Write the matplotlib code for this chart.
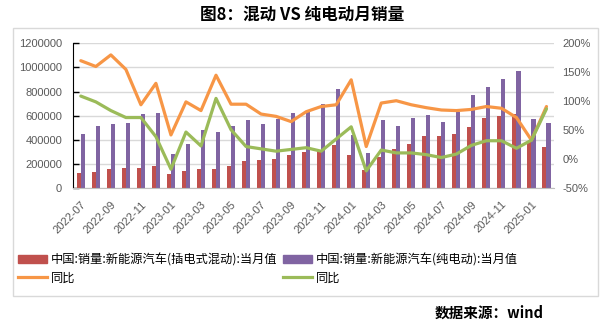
import matplotlib
matplotlib.use("Agg")
import matplotlib.pyplot as plt
from matplotlib.patches import Rectangle
from matplotlib.lines import Line2D
import numpy as np

plt.rcParams["font.family"] = ["Liberation Sans", "Noto Sans CJK SC", "DejaVu Sans"]

# monthly sales (units) and yoy (%)
months = ["2022-07", "2022-08", "2022-09", "2022-10", "2022-11", "2022-12",
          "2023-01", "2023-02", "2023-03", "2023-04", "2023-05", "2023-06",
          "2023-07", "2023-08", "2023-09", "2023-10", "2023-11", "2023-12",
          "2024-01", "2024-02", "2024-03", "2024-04", "2024-05", "2024-06",
          "2024-07", "2024-08", "2024-09", "2024-10", "2024-11", "2024-12",
          "2025-01", "2025-02"]
phev = [130, 138, 163, 171, 171, 185, 121, 146, 163, 163, 185, 226,
        235, 246, 276, 301, 309, 358, 275, 150, 262, 322, 366, 433,
        433, 450, 508, 584, 598, 614, 386, 339]
bev = [450, 516, 532, 543, 618, 626, 284, 367, 483, 469, 516, 566,
       532, 571, 624, 643, 698, 818, 441, 295, 565, 515, 582, 607,
       549, 635, 773, 840, 904, 970, 573, 543]
phev_yoy = [170, 160, 180, 155, 94, 131, 42, 99, 84, 145, 95, 95,
            78, 74, 65, 82, 91, 94, 137, 22, 97, 101, 94, 89,
            85, 84, 86, 91, 88, 72, 33, 91]
bev_yoy = [109, 99, 84, 72, 72, 39, -17, 47, 23, 105, 51, 22,
           18, 14, 17, 20, 14, 35, 56, -20, 16, 11, 11, 8,
           3, 9, 24, 32, 32, 19, 33, 87]

RED, PURPLE = "#C0504D", "#8064A2"
ORANGE, GREEN = "#F79646", "#9BBB59"
GRAY = "#595959"

x = np.arange(len(months))
fig = plt.figure(figsize=(6.04, 3.24), dpi=100)
ax = fig.add_axes([73.3 / 604, 135.7 / 324, 480.7 / 604, 145 / 324])
ax2 = ax.twinx()

w = 0.27
ax.bar(x - w / 2, np.array(phev) * 1000, width=w, color=RED, zorder=2)
ax.bar(x + w / 2, np.array(bev) * 1000, width=w, color=PURPLE, zorder=2)
ax.set_xlim(-0.5, len(months) - 0.5)
ax.set_ylim(0, 1200000)
ax.set_yticks(np.arange(0, 1200001, 200000))
ax.set_yticklabels([f"{v:d}" for v in range(0, 1200001, 200000)])
ax.grid(axis="y", color="#D9D9D9", lw=1, zorder=0)
ax.set_axisbelow(True)
ax.tick_params(axis="y", direction="in", length=4, width=1, colors="black",
               labelcolor=GRAY, labelsize=8, pad=8)
ax.set_xticks(x[::2])
ax.set_xticklabels(months[::2], rotation=45, ha="right", va="top",
                   rotation_mode="anchor", fontsize=8, color=GRAY)
ax.tick_params(axis="x", length=0, pad=8)
for s in ("top", "right"):
    ax.spines[s].set_visible(False)
ax.spines["bottom"].set_color("#BFBFBF")
ax.spines["left"].set_color("black")

ax2.plot(x, phev_yoy, color=ORANGE, lw=2.3, solid_capstyle="round", zorder=3)
ax2.plot(x, bev_yoy, color=GREEN, lw=2.3, solid_capstyle="round", zorder=3)
ax2.set_ylim(-50, 200)
ax2.set_yticks(np.arange(-50, 201, 50))
ax2.set_yticklabels([f"{v}%" for v in range(-50, 201, 50)])
ax2.tick_params(axis="y", length=0, labelcolor=GRAY, labelsize=8, pad=6)
for s in ax2.spines.values():
    s.set_visible(False)

handles = [
    Rectangle((0, 0), 1, 1, color=RED),
    Line2D([], [], color=ORANGE, lw=2.3),
    Rectangle((0, 0), 1, 1, color=PURPLE),
    Line2D([], [], color=GREEN, lw=2.3),
]
labels = ["中国:销量:新能源汽车(插电式混动):当月值", "同比",
          "中国:销量:新能源汽车(纯电动):当月值", "同比"]
fig.legend(handles, labels, loc="upper left", bbox_to_anchor=(18 / 604, 1 - 253 / 324),
           ncol=2, frameon=False, handlelength=2.4, handleheight=0.7,
           handletextpad=0.3, columnspacing=0.4, labelspacing=0.45,
           borderpad=0, borderaxespad=0, prop={"family": ["Noto Sans CJK SC"], "size": 8.8})

fig.patches.append(Rectangle((13 / 604, 1 - 296 / 324), 585 / 604, 268 / 324,
                             transform=fig.transFigure, fill=False,
                             edgecolor="#D9D9D9", lw=1))

fig.text(302 / 604, 1 - 15 / 324, "图8：混动 VS 纯电动月销量", ha="center", va="center",
         fontsize=12, fontweight="bold", family=["Noto Sans CJK SC"])
fig.text(489 / 604, 1 - 313 / 324, "数据来源：wind", ha="center", va="center",
         fontsize=10.5, fontweight="bold", family=["Noto Sans CJK SC"])

fig.savefig("out.png", dpi=100)
